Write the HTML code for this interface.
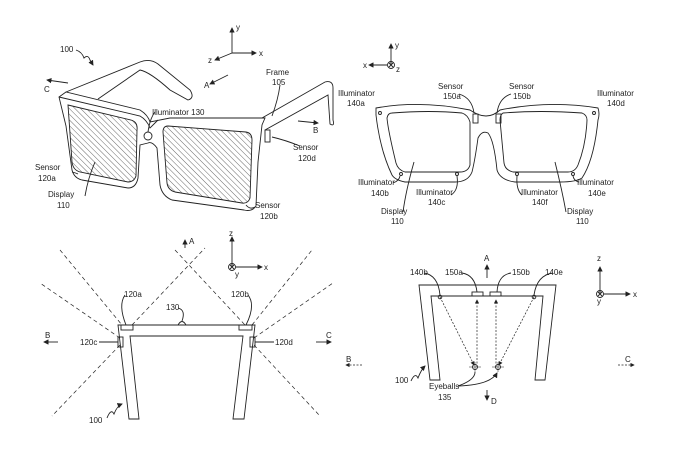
<!DOCTYPE html>
<html><head><meta charset="utf-8"><style>
body{margin:0;background:#fff}
svg{display:block}
text{font-family:"Liberation Sans",sans-serif;font-size:8px;fill:#222}
</style></head><body>
<svg width="674" height="469" viewBox="0 0 674 469" xmlns="http://www.w3.org/2000/svg">
<defs>
<pattern id="h" width="4" height="4" patternUnits="userSpaceOnUse" patternTransform="rotate(-45)">
<line x1="0" y1="0" x2="0" y2="4" stroke="#444" stroke-width="0.8"/>
</pattern>
<marker id="ar" markerWidth="6" markerHeight="6" refX="5" refY="3" orient="auto"><path d="M0,0 L6,3 L0,6 z" fill="#222"/></marker>
</defs>
<g fill="none" stroke="#222" stroke-width="0.9">
<!-- Panel 1 -->
<path d="M66,92 L140,62 Q150,58 158,64 L190,90 Q195,98 188,100 L170,90 Q150,72 140,70 L98,99"/>
<path d="M262,118 L325,82 Q333,80 333,88 L333,120 Q335,127 330,124 L328,95 L265,130"/>
<path d="M59,97 L66,92 L140,110 Q148,115 150,122 Q160,120 170,118 L265,118 L262,125 L258,162 L256,206 Q252,212 244,210 L172,200 Q162,196 160,185 L157,148 Q152,141 148,143 L140,145 L138,178 Q136,188 128,188 L82,180 Q74,178 72,170 L66,126 Z"/>
<path d="M59,97 L140,116 Q147,120 150,128 L158,120"/>
<path d="M68,105 L131,120 Q138,122 137,130 L136,176 Q134,182 128,182 L80,172 Q73,170 72,162 Z" fill="url(#h)"/>
<path d="M168,126 L246,132 Q252,133 252,140 L250,198 Q248,204 242,203 L175,192 Q168,190 167,183 L163,132 Q163,126 168,126 Z" fill="url(#h)"/>
<circle cx="148" cy="136" r="4"/>
<rect x="265" y="130" width="5" height="12"/>
<path d="M232,53 L232,28" marker-end="url(#ar)"/><path d="M232,53 L256,53" marker-end="url(#ar)"/><path d="M232,53 L215,60" marker-end="url(#ar)"/>
<path d="M68,83 L47,80" marker-end="url(#ar)"/>
<path d="M228,75 L210,84" marker-end="url(#ar)"/>
<path d="M298,121 L318,123" marker-end="url(#ar)"/>
<path d="M76,50 Q82,52 84,58 Q88,54 90,60 L93,65" marker-end="url(#ar)"/>
<path d="M280,85 Q278,100 272,116"/>
<path d="M155,112 Q150,118 148,132"/>
<path d="M300,146 Q285,140 272,137"/>
<path d="M72,172 Q76,173 78,174"/>
<path d="M85,196 Q88,178 95,162"/>
<path d="M255,207 Q250,210 246,205"/>
<!-- Panel 2 -->
<path d="M391,65 L391,44" marker-end="url(#ar)"/><path d="M387,65 L369,65" marker-end="url(#ar)"/><circle cx="391" cy="65" r="3.5"/><path d="M389,63 L393,67 M393,63 L389,67"/>
<path d="M376,108 Q420,100 470,110 Q487,122 500,110 Q550,100 598,108 Q600,114 598,120 Q594,160 582,178 Q576,182 560,182 L515,182 Q500,180 497,170 Q494,140 488,133 Q482,130 478,138 Q475,160 472,172 Q468,182 455,182 L405,182 Q395,180 392,175 Q380,150 376,115 Z"/>
<path d="M392,113 Q430,110 462,113 Q468,115 470,122 L470,165 Q468,172 460,172 L405,172 Q398,170 396,163 Q388,130 387,118 Q388,113 392,113 Z"/>
<path d="M503,113 Q540,110 582,113 Q587,115 587,120 Q586,145 578,165 Q575,172 568,172 L513,172 Q505,170 504,163 L500,120 Q500,115 503,113 Z"/>
<rect x="473" y="114" width="5" height="9"/><rect x="496" y="114" width="5" height="9"/>
<circle cx="380" cy="113" r="1.5"/><circle cx="594" cy="113" r="1.5"/>
<circle cx="401" cy="174" r="1.5"/><circle cx="457" cy="174" r="1.5"/><circle cx="517" cy="174" r="1.5"/><circle cx="573" cy="174" r="1.5"/>
<path d="M459,94 Q472,98 474,113"/><path d="M511,94 Q499,98 497,113"/>
<path d="M393,183 Q399,181 400,176"/><path d="M451,195 Q459,190 457,176"/>
<path d="M403,212 Q406,190 414,162"/><path d="M522,195 Q516,190 517,176"/>
<path d="M579,182 Q574,181 573,176"/><path d="M566,212 Q562,190 555,162"/>
<!-- Panel 3 -->
<g stroke-dasharray="4,3" stroke-width="0.7">
<path d="M60,250 L122,325"/><path d="M132,325 L205,248"/><path d="M175,250 L245,325"/><path d="M252,325 L312,250"/>
<path d="M120,338 L40,283"/><path d="M120,345 L52,416"/><path d="M254,338 L333,283"/><path d="M254,345 L320,416"/>
</g>
<path d="M118,325 L255,325 L244,419 L233,419 L243,336 L130,336 L139,419 L129,419 Z"/>
<rect x="121" y="325" width="12" height="5"/><rect x="239" y="325" width="13" height="5"/>
<rect x="118" y="337" width="5" height="10"/><rect x="250" y="337" width="5" height="10"/>
<path d="M178,325 Q182,318 186,325"/>
<path d="M185,248 L185,240" marker-end="url(#ar)"/>
<path d="M232,267 L232,237" marker-end="url(#ar)"/><path d="M236,267 L262,267" marker-end="url(#ar)"/><circle cx="232" cy="267" r="3.5"/><path d="M230,265 L234,269 M234,265 L230,269"/>
<path d="M58,342 L44,342" marker-end="url(#ar)"/><path d="M316,342 L331,342" marker-end="url(#ar)"/>
<path d="M125,295 Q118,305 126,325"/><path d="M248,295 Q256,305 246,325"/>
<path d="M178,308 Q186,310 182,321"/><path d="M99,342 L118,342"/><path d="M274,342 L255,342"/>
<path d="M107,418 Q111,408 114,414 Q117,406 122,404" marker-end="url(#ar)"/>
<!-- Panel 4 -->
<path d="M419,285 L556,285 L545,380 L535,380 L543,296 L431,296 L440,380 L430,380 Z"/>
<rect x="472" y="292" width="11" height="4"/><rect x="490" y="292" width="11" height="4"/>
<circle cx="440" cy="297" r="1.8"/><circle cx="534" cy="297" r="1.8"/>
<g stroke-dasharray="2,1.5" stroke-width="0.7">
<path d="M440,297 L474,365" marker-end="url(#ar)"/><path d="M534,297 L499,365" marker-end="url(#ar)"/>
<path d="M477,367 L477,300" marker-end="url(#ar)"/><path d="M496,367 L496,300" marker-end="url(#ar)"/>
<path d="M362,365 L346,365" marker-end="url(#ar)"/><path d="M618,365 L634,365" marker-end="url(#ar)"/>
</g>
<circle cx="475" cy="367" r="2.5"/><circle cx="498" cy="367" r="2.5"/>
<path d="M469,367 L481,367 M475,362 L475,372 M492,367 L504,367 M498,362 L498,372" stroke-width="0.5"/>
<path d="M487,278 L487,265" marker-end="url(#ar)"/><path d="M487,390 L487,400" marker-end="url(#ar)"/>
<path d="M600,294 L600,267" marker-end="url(#ar)"/><path d="M604,294 L630,294" marker-end="url(#ar)"/><circle cx="600" cy="294" r="3.5"/><path d="M598,292 L602,296 M602,292 L598,296"/>
<path d="M424,273 Q438,275 440,295"/><path d="M462,273 Q475,275 477,292"/><path d="M511,273 Q498,275 497,292"/><path d="M553,273 Q537,275 534,295"/>
<path d="M458,386 Q475,380 475,372"/><path d="M458,386 Q490,385 497,373" marker-end="url(#ar)"/>
<path d="M411,381 Q415,372 418,378 Q421,370 425,366" marker-end="url(#ar)"/>
</g>
<!-- Texts -->
<text x="60" y="52">100</text><text x="44" y="92">C</text><text x="204" y="88">A</text>
<text x="236" y="30">y</text><text x="259" y="56">x</text><text x="208" y="63">z</text>
<text x="266" y="75">Frame</text><text x="272" y="85">105</text>
<text x="152" y="115">Illuminator 130</text><text x="313" y="133">B</text>
<text x="293" y="150">Sensor</text><text x="298" y="161">120d</text>
<text x="35" y="170">Sensor</text><text x="38" y="181">120a</text>
<text x="48" y="197">Display</text><text x="57" y="208">110</text>
<text x="255" y="208">Sensor</text><text x="260" y="219">120b</text>
<text x="395" y="48">y</text><text x="363" y="68">x</text><text x="396" y="72">z</text>
<text x="338" y="96">Illuminator</text><text x="347" y="106">140a</text>
<text x="438" y="89">Sensor</text><text x="443" y="99">150a</text>
<text x="509" y="89">Sensor</text><text x="513" y="99">150b</text>
<text x="597" y="96">Illuminator</text><text x="607" y="106">140d</text>
<text x="358" y="185">Illuminator</text><text x="371" y="196">140b</text>
<text x="416" y="195">Illuminator</text><text x="428" y="205">140c</text>
<text x="381" y="214">Display</text><text x="391" y="224">110</text>
<text x="521" y="195">Illuminator</text><text x="532" y="205">140f</text>
<text x="577" y="185">Illuminator</text><text x="588" y="196">140e</text>
<text x="567" y="214">Display</text><text x="576" y="224">110</text>
<text x="189" y="244">A</text><text x="235" y="277">y</text><text x="264" y="270">x</text><text x="229" y="236">z</text>
<text x="124" y="297">120a</text><text x="231" y="297">120b</text><text x="166" y="310">130</text>
<text x="45" y="338">B</text><text x="80" y="345">120c</text><text x="275" y="345">120d</text><text x="326" y="338">C</text>
<text x="89" y="423">100</text>
<text x="410" y="275">140b</text><text x="445" y="275">150a</text><text x="512" y="275">150b</text><text x="545" y="275">140e</text>
<text x="484" y="261">A</text><text x="491" y="404">D</text><text x="346" y="362">B</text><text x="625" y="362">C</text>
<text x="395" y="383">100</text><text x="429" y="389">Eyeballs</text><text x="438" y="400">135</text>
<text x="597" y="261">z</text><text x="633" y="297">x</text><text x="597" y="304">y</text>
</svg>
</body></html>
